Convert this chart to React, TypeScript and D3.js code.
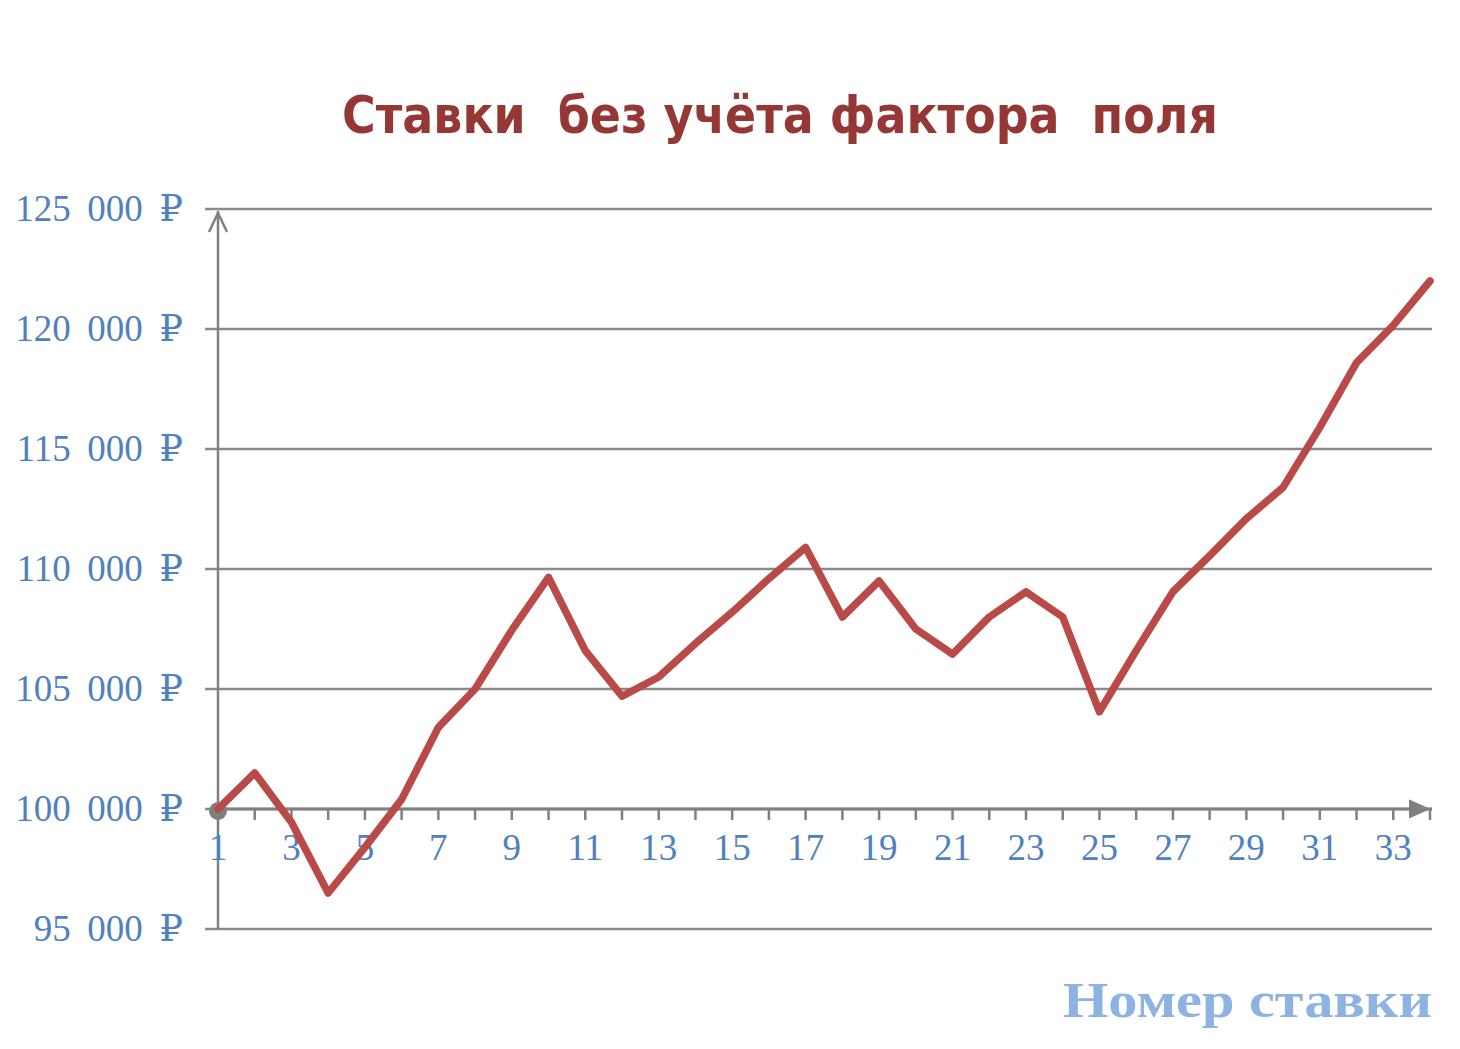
import React from "react";
import * as d3 from "d3";

// bet number -> amount (RUB)
const betNumbers = d3.range(1, 35);
const betValues = [
  100000, 101500, 99450, 96500, 98400, 100400, 103400, 105000, 107450, 109650,
  106600, 104700, 105500, 106900, 108200, 109600, 110900, 108000, 109500, 107500,
  106450, 108000, 109050, 108000, 104050, 106600, 109050, 110550, 112100, 113400,
  115900, 118600, 120150, 122000,
];
const yTicks = [95000, 100000, 105000, 110000, 115000, 120000, 125000];
const xLabelTicks = d3.range(1, 35, 2);

const W = 1460;
const H = 1049;

const gap = "\u2009\u00a0";
const fmtRub = (v: number) => d3.format(",")(v).replace(/,/g, gap) + gap + "₽";

export default function App() {
  const x = d3.scaleLinear().domain([1, 34]).range([218, 1430]);
  const y = d3.scaleLinear().domain([95000, 125000]).range([929, 209]);

  const line = d3
    .line<number>()
    .x((_, i) => x(betNumbers[i]))
    .y((d) => y(d));

  const axisColor = "#808080";
  const labelColor = "#4f81bd";
  const gridRight = 1432;
  const y0 = y(100000);

  return (
    <svg
      width={W}
      height={H}
      style={{ position: "absolute", left: 0, top: 0, background: "#fff" }}
    >
      {/* title */}
      <text
        x={780}
        y={133}
        textAnchor="middle"
        fontFamily="DejaVu Sans"
        fontWeight="bold"
        fontSize={52}
        fill="#953735"
        textLength={876}
        lengthAdjust="spacingAndGlyphs"
        style={{ whiteSpace: "pre" }}
      >
        {"Ставки  без учёта фактора  поля"}
      </text>

      {/* gridlines + y labels */}
      {yTicks.map((t) => (
        <g key={t}>
          <line
            x1={205}
            x2={gridRight}
            y1={y(t)}
            y2={y(t)}
            stroke="#8a8a8a"
            strokeWidth={2.5}
          />
          <text
            x={183}
            y={y(t) + 12}
            textAnchor="end"
            fontFamily="Liberation Serif, DejaVu Serif, serif"
            fontSize={37}
            fill={labelColor}
          >
            {fmtRub(t)}
          </text>
        </g>
      ))}

      {/* y axis with arrow */}
      <line x1={218} x2={218} y1={929} y2={211} stroke={axisColor} strokeWidth={2.5} />
      <path
        d="M209,232 L218,213 L227,232"
        fill="none"
        stroke={axisColor}
        strokeWidth={2.5}
      />

      {/* x axis at 100 000 */}
      <line x1={218} x2={gridRight} y1={y0} y2={y0} stroke={axisColor} strokeWidth={3} />
      <path d="M1410,801 L1428,809 L1410,817 Z" fill={axisColor} stroke={axisColor} strokeWidth={2} />
      {betNumbers.map((n) => (
        <line
          key={n}
          x1={x(n)}
          x2={x(n)}
          y1={y0}
          y2={y0 + 11}
          stroke={axisColor}
          strokeWidth={2.5}
        />
      ))}
      {xLabelTicks.map((n) => (
        <text
          key={n}
          x={x(n)}
          y={860}
          textAnchor="middle"
          fontFamily="Liberation Serif, DejaVu Serif, serif"
          fontSize={37}
          fill={labelColor}
        >
          {n}
        </text>
      ))}

      {/* origin dot */}
      <circle cx={218} cy={y0 + 2} r={9} fill="#7f7f7f" />

      {/* series */}
      <path
        d={line(betValues) || ""}
        fill="none"
        stroke="#b94a48"
        strokeWidth={7.5}
        strokeLinejoin="round"
        strokeLinecap="round"
      />

      {/* x axis title */}
      <text
        x={gridRight}
        y={1017}
        textAnchor="end"
        fontFamily="Liberation Serif, DejaVu Serif, serif"
        fontWeight="bold"
        fontSize={50}
        fill="#8db3e2"
        textLength={369}
        lengthAdjust="spacingAndGlyphs"
      >
        Номер ставки
      </text>
    </svg>
  );
}
